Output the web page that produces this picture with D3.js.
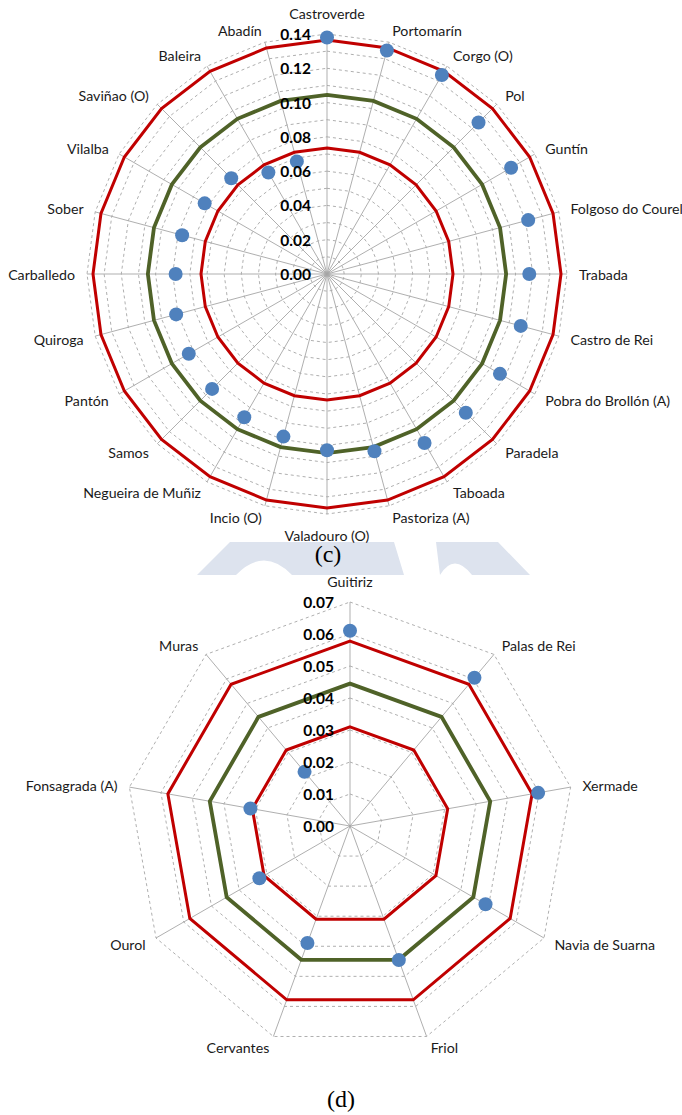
<!DOCTYPE html>
<html>
<head>
<meta charset="utf-8">
<script src="https://cdn.jsdelivr.net/npm/d3@7"></script>
<style>
  html, body { margin: 0; padding: 0; background: #ffffff; }
  svg { display: block; }
</style>
</head>
<body>
<svg id="chart" width="682" height="1115"></svg>
<script>
// ---- Panel (c): 24 municipalities ----
const topCategories = [
  "Castroverde", "Portomarín", "Corgo (O)", "Pol", "Guntín", "Folgoso do Courel",
  "Trabada", "Castro de Rei", "Pobra do Brollón (A)", "Paradela", "Taboada", "Pastoriza (A)",
  "Valadouro (O)", "Incio (O)", "Negueira de Muñiz", "Samos", "Pantón", "Quiroga",
  "Carballedo", "Sober", "Vilalba", "Saviñao (O)", "Baleira", "Abadín"
];
const topValues = [
  0.138, 0.135, 0.134, 0.125, 0.124, 0.1215,
  0.118, 0.117, 0.1165, 0.1145, 0.1138, 0.107,
  0.1028, 0.0982, 0.0965, 0.0948, 0.0931, 0.0911,
  0.0883, 0.0875, 0.0824, 0.079, 0.0684, 0.068
];
const topUpperLimit = 0.1365;
const topCenterLine = 0.1045;
const topLowerLimit = 0.0735;
const topTickLabels = ["0.00", "0.02", "0.04", "0.06", "0.08", "0.10", "0.12", "0.14"];

// ---- Panel (d): 9 municipalities ----
const bottomCategories = [
  "Guitiriz", "Palas de Rei", "Xermade", "Navia de Suarna", "Friol",
  "Cervantes", "Ourol", "Fonsagrada (A)", "Muras"
];
const bottomValues = [0.061, 0.0605, 0.0597, 0.0489, 0.0446, 0.0389, 0.0327, 0.0316, 0.0221];
const bottomUpperLimit = 0.0578;
const bottomCenterLine = 0.0445;
const bottomLowerLimit = 0.031;
const bottomTickLabels = ["0.00", "0.01", "0.02", "0.03", "0.04", "0.05", "0.06", "0.07"];

const COLORS = {
  limit: "#c00000",
  center: "#4f6228",
  point: "#4f81bd",
  axis: "#a6a6a6",
  ring: "#a6a6a6",
  text: "#1a1a1a"
};
const FONT = "Lato, Carlito, 'Liberation Sans', sans-serif";

const svg = d3.select("#chart");

// Faint band behind the caption of panel (c)
const band = svg.append("g").attr("fill", "#dde3ee");
band.append("path").attr("d", "M197,575 L230,542 L394,542 L404,575 L292,575 Q264,546 236,575 Z");
band.append("path").attr("d", "M436,542 L498,542 L530,575 L472,575 Q454,552 440,575 Z");

function drawRadar(opts) {
  const { cx, cy, rMax, maxVal, ringStep, categories, values, upper, center, lower, ticks } = opts;
  const n = categories.length;
  const g = svg.append("g").attr("transform", `translate(${cx},${cy})`);
  const r = d3.scaleLinear().domain([0, maxVal]).range([0, rMax]);
  const angle = d3.scaleLinear().domain([0, n]).range([0, 2 * Math.PI]);
  const idx = d3.range(n);

  // Dashed polygon rings every ringStep
  const levels = d3.range(1, Math.round(maxVal / ringStep) + 1).map(k => k * ringStep);
  const ringLine = d3.lineRadial().curve(d3.curveLinearClosed);
  g.append("g").selectAll("path").data(levels).join("path")
    .attr("d", lv => ringLine(idx.map(i => [angle(i), r(lv)])))
    .attr("fill", "none")
    .attr("stroke", COLORS.ring)
    .attr("stroke-width", 0.9)
    .attr("stroke-dasharray", "3,3");

  // Radial axis lines
  g.append("g").selectAll("line").data(idx).join("line")
    .attr("x1", 0).attr("y1", 0)
    .attr("x2", i => r(maxVal) * Math.sin(angle(i)))
    .attr("y2", i => -r(maxVal) * Math.cos(angle(i)))
    .attr("stroke", COLORS.axis)
    .attr("stroke-width", 0.9);

  // Limit and center lines
  const seriesLine = d3.lineRadial()
    .angle((d, i) => angle(i))
    .radius(d => r(d))
    .curve(d3.curveLinearClosed);
  const series = [
    { v: upper, color: COLORS.limit, w: 3 },
    { v: center, color: COLORS.center, w: 3.8 },
    { v: lower, color: COLORS.limit, w: 3 }
  ];
  g.append("g").selectAll("path").data(series).join("path")
    .attr("d", s => seriesLine(categories.map(() => s.v)))
    .attr("fill", "none")
    .attr("stroke", s => s.color)
    .attr("stroke-width", s => s.w)
    .attr("stroke-linejoin", "miter");

  // Observed values
  g.append("g").selectAll("circle").data(values).join("circle")
    .attr("cx", (d, i) => r(d) * Math.sin(angle(i)))
    .attr("cy", (d, i) => -r(d) * Math.cos(angle(i)))
    .attr("r", 7)
    .attr("fill", COLORS.point);

  // Value tick labels along the first axis
  g.append("g").selectAll("text").data(ticks).join("text")
    .attr("x", -16)
    .attr("y", t => -r(+t))
    .attr("text-anchor", "end")
    .attr("dominant-baseline", "central")
    .attr("font-family", FONT)
    .attr("font-weight", "bold")
    .attr("font-size", 15.5)
    .attr("fill", "#000")
    .text(t => t);

  // Category labels around the rim
  g.append("g").selectAll("text").data(categories).join("text")
    .each(function (name, i) {
      const a = angle(i);
      const s = Math.sin(a), c = Math.cos(a);
      const rr = r(maxVal) + 12;
      let x = rr * s, y = -rr * c;
      let anchor = "middle";
      if (s > 0.05) anchor = "start";
      else if (s < -0.05) anchor = "end";
      else y += -c * 9;
      d3.select(this)
        .attr("x", x).attr("y", y)
        .attr("text-anchor", anchor)
        .attr("dominant-baseline", "central");
    })
    .attr("font-family", FONT)
    .attr("font-size", 14.2)
    .attr("fill", COLORS.text)
    .text(d => d);
}

drawRadar({
  cx: 327, cy: 274, rMax: 240, maxVal: 0.14, ringStep: 0.01,
  categories: topCategories, values: topValues,
  upper: topUpperLimit, center: topCenterLine, lower: topLowerLimit,
  ticks: topTickLabels
});

drawRadar({
  cx: 350, cy: 826, rMax: 224, maxVal: 0.07, ringStep: 0.01,
  categories: bottomCategories, values: bottomValues,
  upper: bottomUpperLimit, center: bottomCenterLine, lower: bottomLowerLimit,
  ticks: bottomTickLabels
});

// Panel captions
svg.append("text").attr("x", 328).attr("y", 554)
  .attr("text-anchor", "middle").attr("dominant-baseline", "central")
  .attr("font-family", "'Liberation Serif', 'Times New Roman', serif")
  .attr("font-size", 24).attr("fill", "#000").text("(c)");
svg.append("text").attr("x", 341).attr("y", 1099)
  .attr("text-anchor", "middle").attr("dominant-baseline", "central")
  .attr("font-family", "'Liberation Serif', 'Times New Roman', serif")
  .attr("font-size", 24).attr("fill", "#000").text("(d)");
</script>
</body>
</html>
